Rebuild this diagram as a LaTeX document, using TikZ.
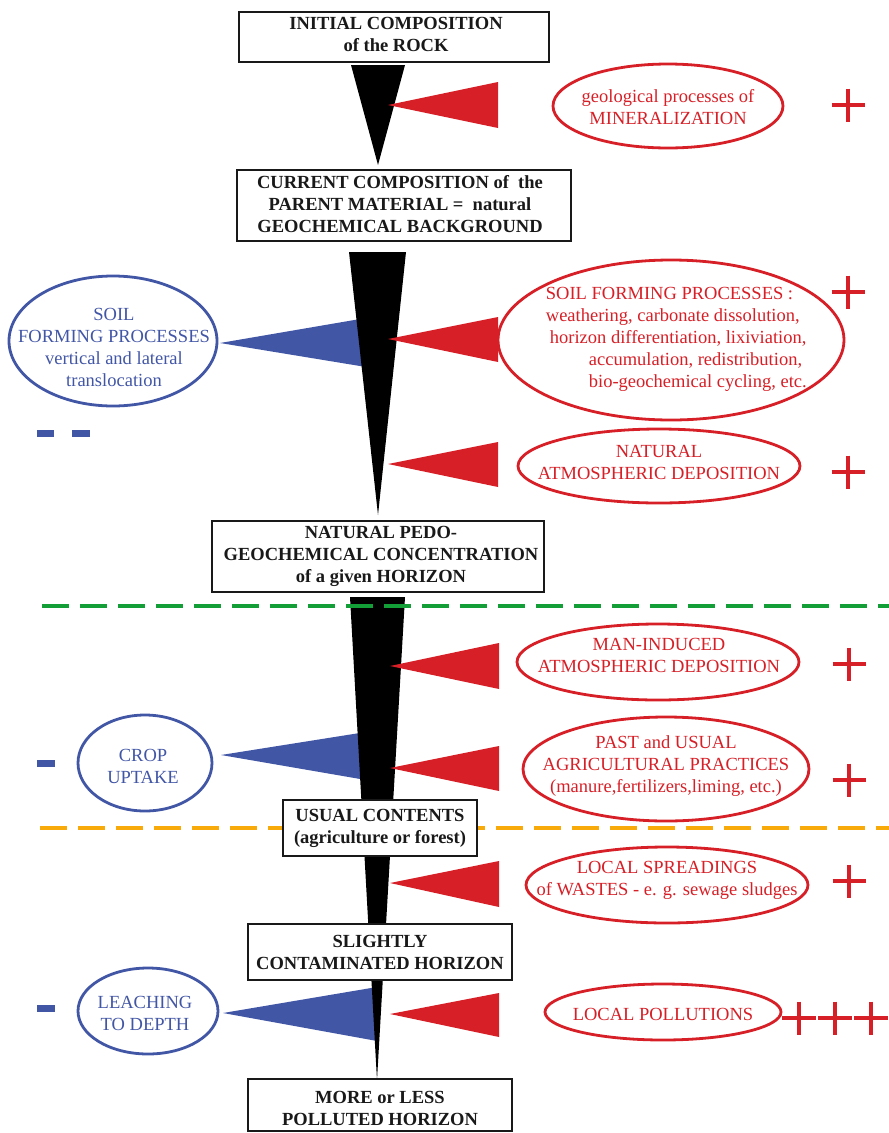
\documentclass[tikz,border=0pt]{standalone}
\usepackage{fontspec}
\setmainfont{Liberation Serif}
\usetikzlibrary{shapes.geometric}
\definecolor{redc}{RGB}{214,31,38}
\definecolor{bluec}{RGB}{66,86,166}
\definecolor{greenc}{RGB}{20,158,56}
\definecolor{orangec}{RGB}{248,170,10}
\definecolor{boxc}{RGB}{25,25,25}
% text placed inside a shape without changing its size: #2 = x shift, #3 = raise of first baseline
\newcommand\ellt[4][c]{\smash{\makebox[0pt]{\hspace*{#2}\hspace*{#2}\raisebox{#3}{\begin{tabular}[t]{@{}#1@{}}#4\end{tabular}}}}}
\tikzset{
  boxn/.style={draw=boxc, line width=2.6pt, fill=white, rectangle, inner sep=0pt,
    text=boxc, font=\bfseries\fontsize{18.5}{22}\selectfont},
  rell/.style={draw=redc, line width=2.8pt, ellipse, inner sep=0pt,
    text=redc, font=\fontsize{18.5}{22}\selectfont},
  bell/.style={draw=bluec, line width=2.8pt, ellipse, inner sep=0pt,
    text=bluec, font=\fontsize{18.5}{22}\selectfont},
  wedge/.style={fill=black},
  redtri/.style={fill=redc},
  bluetri/.style={fill=bluec},
  dashline/.style={line width=3.5pt, dash pattern=on 27pt off 11pt},
  plussign/.pic={\draw[redc, line width=4pt] (-16.5,0) -- (16.5,0) (0,-16.5) -- (0,16.5);},
  plussignw/.pic={\draw[redc, line width=4pt] (-17,0) -- (17,0) (0,-16.5) -- (0,16.5);},
  minussign/.style={fill=bluec}
}
\begin{document}
\begin{tikzpicture}[x=1pt,y=-1pt]
\useasboundingbox (0,0) rectangle (889,1133);

% blue triangles (behind the black wedges)
\fill[bluetri] (220,343) -- (366,318) -- (366,367) -- cycle;
\fill[bluetri] (221,755) -- (366,732) -- (366,780) -- cycle;
\fill[bluetri] (223,1013) -- (377,987) -- (377,1041) -- cycle;

% black wedges
\fill[wedge] (351,65) -- (405,65) -- (378,165) -- cycle;
\fill[wedge] (349,252) -- (406,252) -- (378,515) -- cycle;
\fill[wedge] (350,597) -- (405,597) -- (377,1080) -- cycle;

% dashed limits
\coordinate (gL) at (42,606); \coordinate (gR) at (889,606);
\coordinate (oL) at (40,828); \coordinate (oR) at (889,828);
\draw[dashline, greenc] (gL) -- (gR);
\draw[dashline, orangec] (oL) -- (oR);

% red triangles
\fill[redtri] (388,105) -- (498,82) -- (498,128) -- cycle;
\fill[redtri] (388,339) -- (498,317) -- (498,362) -- cycle;
\fill[redtri] (388,464) -- (498,442) -- (498,487) -- cycle;
\fill[redtri] (390,666) -- (499,643) -- (499,689) -- cycle;
\fill[redtri] (390,768) -- (499,746) -- (499,791) -- cycle;
\fill[redtri] (390,883) -- (499,861) -- (499,907) -- cycle;
\fill[redtri] (390,1014) -- (499,993) -- (499,1037) -- cycle;

% boxes
\node[boxn, minimum width=310pt, minimum height=50pt] (b1) at (394,37)
  {\ellt{2pt}{8pt}{INITIAL COMPOSITION\\of the ROCK}};
\node[boxn, minimum width=334pt, minimum height=71pt] (b2) at (404,205.5)
  {\ellt{-4pt}{17.5pt}{CURRENT COMPOSITION of~ the\\PARENT MATERIAL = ~natural\\GEOCHEMICAL BACKGROUND}};
\node[boxn, minimum width=332pt, minimum height=71pt] (b3) at (378,556.5)
  {\ellt{3pt}{18.5pt}{NATURAL PEDO-\\GEOCHEMICAL CONCENTRATION\\of a given HORIZON}};
\node[boxn, minimum width=194pt, minimum height=56pt] (b4) at (380,828)
  {\ellt{0pt}{7pt}{USUAL CONTENTS\\(agriculture or forest)}};
\node[boxn, minimum width=264pt, minimum height=56pt] (b5) at (380,952)
  {\ellt{0pt}{5pt}{SLIGHTLY\\CONTAMINATED HORIZON}};
\node[boxn, minimum width=264pt, minimum height=52pt] (b6) at (380,1105)
  {\ellt{0pt}{2pt}{MORE or LESS\\POLLUTED HORIZON}};

% ellipses
\node[rell, minimum width=230pt, minimum height=84pt] (e1) at (668,106)
  {\ellt{0pt}{4pt}{geological processes of\\MINERALIZATION}};
\node[bell, minimum width=208pt, minimum height=130pt] (e2) at (113,341)
  {\ellt{1pt}{21pt}{SOIL\\FORMING PROCESSES\\vertical and lateral\\translocation}};
\node[rell, minimum width=346pt, minimum height=160pt] (e3) at (671,340)
  {\ellt[l]{5.3pt}{41pt}{SOIL FORMING PROCESSES :\\weathering, carbonate dissolution,\\\hspace*{4pt}horizon differentiation, lixiviation,\\\hspace*{43pt}accumulation, redistribution,\\\hspace*{43pt}bio-geochemical cycling, etc.}};
\node[rell, minimum width=282pt, minimum height=74pt] (e4) at (659,466)
  {\ellt{0pt}{9pt}{NATURAL\\ATMOSPHERIC DEPOSITION}};
\node[rell, minimum width=282pt, minimum height=76pt] (e5) at (658,662)
  {\ellt{1pt}{12pt}{MAN-INDUCED\\ATMOSPHERIC DEPOSITION}};
\node[bell, minimum width=134pt, minimum height=96pt] (e6) at (145,763)
  {\ellt{-2pt}{2pt}{CROP\\UPTAKE}};
\node[rell, minimum width=286pt, minimum height=104pt] (e7) at (666,769)
  {\ellt{0pt}{21pt}{PAST and USUAL\\AGRICULTURAL PRACTICES\\(manure,fertilizers,liming, etc.)}};
\node[rell, minimum width=282pt, minimum height=76pt] (e8) at (667,885)
  {\ellt{0pt}{12pt}{LOCAL SPREADINGS\\of WASTES - e. g. sewage sludges}};
\node[bell, minimum width=140pt, minimum height=86pt] (e9) at (148,1011)
  {\ellt{-3pt}{3pt}{LEACHING\\TO DEPTH}};
\node[rell, minimum width=236pt, minimum height=56pt] (e10) at (663,1012)
  {\ellt{0pt}{-8pt}{LOCAL POLLUTIONS}};

% plus signs
\pic at (848,105) {plussign};
\pic at (848,292) {plussign};
\pic at (848,472) {plussign};
\pic at (849,664) {plussign};
\pic at (849,780) {plussign};
\pic at (849,881) {plussign};
\pic at (799,1018) {plussignw};
\pic at (835,1018) {plussignw};
\pic at (871,1018) {plussignw};

% minus signs
\fill[minussign] (37,429.5) rectangle (54,436.5);
\fill[minussign] (72,429.5) rectangle (90,436.5);
\fill[minussign] (37,759.5) rectangle (55,766.5);
\fill[minussign] (37,1004.5) rectangle (55,1011.5);
\end{tikzpicture}
\end{document}
